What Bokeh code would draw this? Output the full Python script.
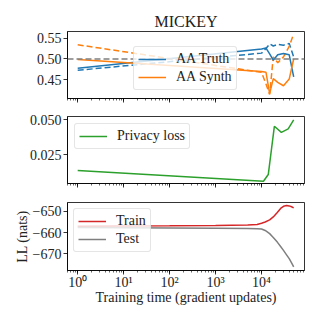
from bokeh.plotting import figure
from bokeh.layouts import column
from bokeh.models import Range1d, FixedTicker, LogTicker, CustomJSTickFormatter, Span
from bokeh.embed import file_html
from bokeh.resources import INLINE

# ---------------- data ----------------
title = "MICKEY"
aa_x = [1, 10000, 12500, 15000, 18000, 22500, 30000, 40000, 50000]
aa_truth_solid = [0.478, 0.524, 0.526, 0.512, 0.497, 0.510, 0.513, 0.510, 0.457]
aa_truth_dashed = [0.473, 0.514, 0.525, 0.536, 0.531, 0.535, 0.533, 0.537, 0.505]
aa_synth_solid = [0.499, 0.470, 0.468, 0.417, 0.453, 0.444, 0.436, 0.452, 0.500]
aa_synth_dashed = [0.534, 0.468, 0.440, 0.415, 0.505, 0.491, 0.505, 0.530, 0.560]
aa_reference = 0.5

priv_x = [1, 11000, 14000, 19000, 27000, 38000, 50000]
privacy_loss = [0.0138, 0.0061, 0.0109, 0.0454, 0.0411, 0.0436, 0.0500]

ll_x = [1, 10, 100, 1000, 5000, 8000, 10000, 12000, 15000, 18000, 22000,
        26000, 30000, 35000, 40000, 45000, 50000]
ll_train = [-657.0, -656.9, -656.8, -656.6, -656.4, -656.2, -655.6, -655.0,
            -654.0, -652.6, -650.5, -648.6, -647.6, -647.2, -647.4, -647.8, -648.3]
ll_test = [-657.6, -657.7, -657.8, -658.0, -658.1, -658.2, -658.3, -659.0,
           -660.5, -662.3, -664.5, -666.6, -668.4, -670.5, -672.3, -674.3, -676.2]

top_ticks = [0.45, 0.50, 0.55]
mid_ticks = [0.025, 0.050]
bot_ticks = [-670, -660, -650]

BLUE = "#1f77b4"
ORANGE = "#ff7f0e"
GREEN = "#2ca02c"
RED = "#d62728"
GRAY = "#7f7f7f"
FONT = "Liberation Serif"
FS = "14px"

x_range = Range1d(0.6, 86000)


def make_fig(fh, top, bottom, y0, y1):
    p = figure(frame_width=237, frame_height=fh, x_axis_type="log", x_range=x_range,
               y_range=Range1d(y0, y1), output_backend="svg", toolbar_location=None,
               min_border_left=67, min_border_right=15, min_border_top=top,
               min_border_bottom=bottom)
    p.xgrid.visible = False
    p.ygrid.visible = False
    p.outline_line_color = "black"
    p.outline_line_width = 0.8
    p.background_fill_color = "white"
    p.border_fill_color = "white"
    for ax in (p.xaxis[0], p.yaxis[0]):
        ax.axis_line_color = "black"
        ax.axis_line_width = 0.8
        ax.major_tick_in = 0
        ax.major_tick_out = 4
        ax.minor_tick_in = 0
        ax.minor_tick_out = 2
        ax.major_tick_line_width = 0.8
        ax.minor_tick_line_width = 0.6
        ax.major_label_text_font = FONT
        ax.major_label_text_font_size = FS
        ax.major_label_text_color = "#222222"
        ax.major_label_standoff = 2
    p.yaxis[0].minor_tick_out = 0
    p.xaxis[0].ticker = LogTicker(num_minor_ticks=10)
    return p


def style_legend(p, loc, margin=0):
    lg = p.legend[0]
    lg.location = loc
    lg.label_text_font = FONT
    lg.label_text_font_size = FS
    lg.label_text_color = "#222222"
    lg.background_fill_alpha = 0.8
    lg.border_line_color = "#cccccc"
    lg.border_line_width = 1
    lg.border_radius = 3
    lg.padding = 4
    lg.spacing = 2
    lg.margin = margin
    lg.label_height = 16
    lg.glyph_height = 16
    lg.glyph_width = 28
    lg.label_standoff = 10


hide_fmt = CustomJSTickFormatter(code="return '';")
sup_fmt = CustomJSTickFormatter(code="""
const sup = {'0':'\u2070','1':'\u00b9','2':'\u00b2','3':'\u00b3','4':'\u2074','5':'\u2075','-':'\u207b'};
const e = Math.round(Math.log10(tick));
return '10' + String(e).split('').map(c => sup[c]).join('');
""")

# ---- top panel ----
p1 = make_fig(67, 31, 10, 0.4055, 0.5657)
p1.title.text = title
p1.title.align = "center"
p1.title.text_font = FONT
p1.title.text_font_size = "16px"
p1.title.text_font_style = "normal"
p1.title.text_color = "#222222"
p1.title.standoff = 4
p1.yaxis[0].ticker = FixedTicker(ticks=top_ticks)
p1.yaxis[0].formatter = CustomJSTickFormatter(code="return tick.toFixed(2);")
p1.xaxis[0].formatter = hide_fmt
p1.xaxis[0].major_label_text_font_size = "0px"
p1.xaxis[0].major_label_standoff = 0
p1.add_layout(Span(location=aa_reference, dimension="width", line_color=GRAY,
                   line_dash="6 3", line_width=1.5))
p1.line(aa_x, aa_truth_dashed, line_color=BLUE, line_width=1.5, line_dash="6 3")
p1.line(aa_x, aa_synth_dashed, line_color=ORANGE, line_width=1.5, line_dash="6 3")
p1.line(aa_x, aa_truth_solid, line_color=BLUE, line_width=1.5, legend_label="AA Truth")
p1.line(aa_x, aa_synth_solid, line_color=ORANGE, line_width=1.5, legend_label="AA Synth")
style_legend(p1, (66, 8))

# ---- middle panel ----
p2 = make_fig(67, 8, 10, 0.0045, 0.0524)
p2.yaxis[0].ticker = FixedTicker(ticks=mid_ticks)
p2.yaxis[0].formatter = CustomJSTickFormatter(code="return tick.toFixed(3);")
p2.xaxis[0].formatter = hide_fmt
p2.xaxis[0].major_label_text_font_size = "0px"
p2.xaxis[0].major_label_standoff = 0
p2.line(priv_x, privacy_loss, line_color=GREEN, line_width=1.5, legend_label="Privacy loss")
style_legend(p2, "top_left", 7)

# ---- bottom panel ----
p3 = make_fig(68, 9, 41, -677.9, -645.8)
p3.yaxis[0].ticker = FixedTicker(ticks=bot_ticks)
p3.yaxis[0].formatter = CustomJSTickFormatter(code="return '\u2212' + Math.abs(tick).toFixed(0);")
p3.xaxis[0].formatter = sup_fmt
p3.xaxis[0].axis_label = "Training time (gradient updates)"
p3.yaxis[0].axis_label = "LL (nats)"
p3.xaxis[0].major_label_standoff = 0
for ax in (p3.xaxis[0], p3.yaxis[0]):
    ax.axis_label_text_font = FONT
    ax.axis_label_text_font_size = FS
    ax.axis_label_text_font_style = "normal"
    ax.axis_label_text_color = "#222222"
p3.xaxis[0].axis_label_standoff = -3
p3.yaxis[0].axis_label_standoff = 0
p3.line(ll_x, ll_train, line_color=RED, line_width=1.5, legend_label="Train")
p3.line(ll_x, ll_test, line_color=GRAY, line_width=1.5, legend_label="Test")
style_legend(p3, "top_left", 6)

layout = column(p1, p2, p3, spacing=0)
open("out.html", "w").write(file_html(layout, INLINE))
